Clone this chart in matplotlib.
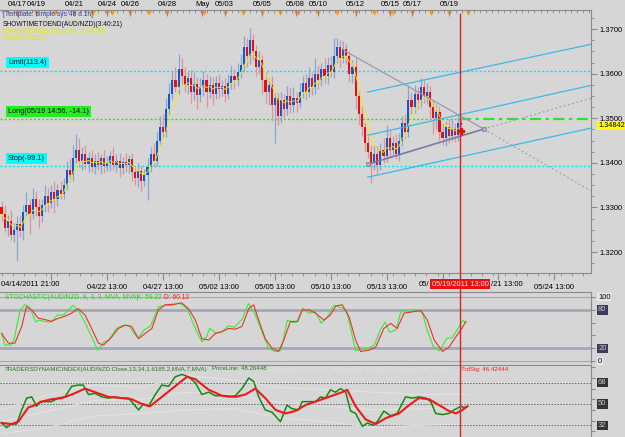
import numpy as np
import pandas as pd
import matplotlib
matplotlib.use("Agg")
import matplotlib.pyplot as plt
import matplotlib.transforms as mtransforms
from matplotlib.lines import Line2D
from matplotlib.ticker import FixedLocator, MultipleLocator, NullFormatter

W, H = 625, 437
BG = "#d6d6d6"
plt.rcParams["font.family"] = ["Liberation Sans", "DejaVu Sans"]
plt.rcParams["font.size"] = 5.5

# AUD/NZD 4h closes, in 1/10000 (3272 -> 1.3272)
closes = [3285, 3255, 3270, 3238, 3250, 3262,
          3248, 3290, 3305, 3285, 3318, 3300,
          3280, 3305, 3325, 3310, 3335, 3318, 3340, 3330,
          3350, 3385, 3372, 3410, 3430,
          3405, 3420, 3398, 3412, 3390, 3405, 3395, 3410, 3392, 3400, 3415, 3395, 3405, 3388, 3402, 3395, 3408,
          3380, 3365, 3382, 3360, 3372, 3390,
          3420, 3405, 3450, 3480, 3470, 3520,
          3555, 3585, 3570, 3610, 3595,
          3575, 3590, 3560, 3578, 3552, 3570, 3585, 3560, 3575, 3555, 3580, 3565, 3572, 3555, 3580, 3595, 3585, 3605, 3620,
          3660, 3640, 3675, 3650,
          3615, 3630, 3585, 3560, 3575, 3530, 3545, 3505,
          3540, 3520, 3550, 3530, 3545, 3535, 3560,
          3580, 3560, 3590, 3570, 3600, 3585, 3610, 3595, 3620, 3605, 3640,
          3660, 3635, 3655, 3640,
          3600, 3615, 3550, 3510, 3480, 3445, 3425,
          3400, 3420, 3395, 3430,
          3415, 3455, 3430, 3445, 3420, 3450,
          3490, 3470, 3540, 3525, 3555, 3540, 3570,
          3550, 3560, 3525, 3500, 3515, 3470,
          3455, 3480, 3460, 3475, 3462, 3490, 3484]
first_open = 3300
up_wick = [15, 20, 12, 25, 15, 18,
           20, 15, 30, 15, 25, 20,
           20, 15, 25, 18, 15, 25, 12, 20,
           15, 20, 25, 30, 35,
           25, 15, 20, 12, 18, 15, 20, 10, 18, 15, 12, 20, 15, 18, 12, 20, 10,
           15, 10, 18, 12, 15, 20,
           15, 25, 20, 25, 30, 25,
           25, 20, 30, 35, 25,
           20, 15, 18, 25, 15, 20, 22, 15, 20, 18, 15, 20, 15, 18, 20, 25, 15, 20, 25,
           25, 20, 28, 15,
           15, 20, 12, 18, 15, 20, 15, 12,
           20, 15, 22, 18, 25, 15, 20,
           15, 20, 25, 15, 35, 20, 15, 25, 18, 20, 40,
           20, 15, 18, 12,
           12, 15, 20, 15, 18, 12, 15,
           15, 20, 18, 15,
           25, 30, 18, 15, 20, 18,
           15, 20, 35, 18, 20, 15, 20,
           15, 20, 12, 15, 18, 12,
           20, 15, 18, 25, 15, 15, 10]
dn_wick = [15, 10, 20, 12, 15, 70,
           15, 20, 12, 45, 10, 20,
           25, 12, 15, 20, 12, 30, 15, 12,
           12, 10, 15, 12, 10,
           15, 20, 12, 18, 10, 15, 12, 20, 15, 10, 18, 12, 15, 20, 12, 15, 18,
           20, 15, 18, 22, 12, 55,
           10, 15, 12, 10, 15, 12,
           12, 15, 10, 15, 20,
           15, 20, 25, 18, 30, 15, 20, 35, 15, 25, 12, 20, 15, 18, 12, 15, 20, 12, 15,
           15, 25, 18, 20,
           20, 15, 30, 25, 30, 35, 85, 20,
           15, 20, 12, 18, 15, 20, 12,
           15, 20, 12, 18, 15, 20, 12, 15, 18, 12, 15,
           15, 20, 12, 18,
           18, 20, 30, 25, 20, 18, 15,
           45, 15, 20, 12,
           15, 12, 18, 15, 12, 15,
           12, 15, 12, 15, 12, 18, 15,
           15, 18, 25, 35, 25, 18,
           15, 18, 15, 12, 15, 12, 10]

limit_price, long_price, cur_price, stop_price = 1.3606, 1.3499, 1.34842, 1.3392

# drawn objects (bar, price)
tri_down = [(110.1, 1.3653), (155.3, 1.3476), (189.8, 1.3337)]
tri_up = [(117.9, 1.3397), (155.3, 1.3476), (189.8, 1.3545)]
chan_top = [(117.9, 1.3559), (189.8, 1.3666)]
chan_mid = [(117.9, 1.3462), (189.8, 1.3574)]
chan_low = [(117.9, 1.3368), (189.8, 1.3478)]

cursor_bar = 147.6

bottom_ticks = [16, 34, 52, 70, 88, 106, 124, 142, 160, 178]
bottom_labels = ["", "04/22 13:00", "04/27 13:00", "05/02 13:00", "05/05 13:00", "05/10 13:00",
                 "05/13 13:00", "", "", "05/24 13:00"]
top_ticks = [5.0, 11.1, 23.4, 34.0, 41.4, 53.4, 64.7, 71.8, 84.0, 94.7, 101.8, 114.0, 125.0, 132.1, 144.0]
top_labels = ["04/17", "04/19", "04/21", "04/24", "04/26", "04/28", "May", "05/03", "05/05",
              "05/08", "05/10", "05/12", "05/15", "05/17", "05/19"]
day_marks = [5.0, 11.1, 17.3, 23.4, 29.4, 34.0, 35.5, 41.4, 47.6, 53.4, 64.6, 65.3, 71.8, 77.8,
             84.0, 89.5, 94.7, 95.6, 101.8, 107.9, 114.0, 119.8, 125.0, 126.0, 132.1, 138.2, 144.0, 150.1]

# stochastic %K / %D  (bar, value)
sto_k_bar = [0, 1, 3, 4, 6, 7.5, 9, 11, 12, 14, 16, 18, 20, 21.5, 23, 25, 27, 29, 31, 33, 34.5, 37, 39, 41,
             42.5, 44, 46, 48, 50.5, 52.5, 55, 57, 58.5, 60, 62, 64.5, 66, 67, 69, 71, 73, 75, 77.5, 79.5,
             81.5, 84, 86, 88, 90, 92, 94, 95.5, 97, 99, 101, 103, 105, 107, 109, 111, 112.5, 114, 115.5,
             118, 120, 122, 123.5, 125, 127, 128.5, 130, 131.5, 133, 135.5, 137, 139, 141, 143.5, 145,
             147, 148.5, 149.5]
sto_k = [44, 25, 25, 33, 80, 88, 85, 61, 64, 62, 61, 72, 72, 80, 87, 77, 59, 38, 17, 30, 32, 51, 56, 56,
         44, 36, 49, 55, 85, 87, 87, 91, 87, 80, 55, 30, 38, 51, 44, 46, 55, 53, 66, 90,
         75, 44, 20, 15, 17, 64, 60, 62, 83, 75, 77, 59, 70, 87, 84, 80, 49, 16, 18,
         20, 25, 49, 61, 45, 49, 76, 80, 76, 81, 76, 49, 23, 16, 36, 36,
         51, 64, 60]
sto_d_bar = [0, 2.2, 4.3, 6.5, 8, 9.7, 11.8, 14, 16.1, 18.3, 20.4, 22.6, 24.7, 26.9, 29, 31.2, 32.8, 35.5,
             37.6, 39.8, 41.9, 44.1, 46.2, 48.4, 50.5, 52.7, 55.9, 58, 60.2, 62.4, 64.5, 66.7, 68.8, 71,
             73.1, 75.3, 77.4, 79.6, 81.2, 82.8, 84.9, 87.1, 89.2, 90.9, 93, 95.2, 96.8, 99, 101.1,
             103.8, 105.9, 107.6, 109.7, 111.9, 114, 115.6, 118.3, 120.5, 123.1, 125.3, 127.4, 129.6,
             132.3, 135, 137.1, 139.3, 142, 144.1, 146.3, 148.2, 149.5]
sto_d = [43, 28, 28, 54, 85, 80, 67, 65, 62, 67, 70, 75, 82, 72, 51, 28, 25, 38,
         51, 56, 54, 35, 43, 51, 80, 88, 89, 91, 82, 64, 35, 33, 43, 46,
         51, 50, 54, 82, 88, 64, 35, 20, 15, 33, 62, 62, 80, 80, 75,
         64, 72, 86, 88, 69, 33, 15, 17, 22, 51, 59, 51, 75,
         77, 79, 64, 33, 15, 22, 38, 51, 62]

# traders dynamic index  (bar, value)
tdi_g_bar = [0, 1.6, 3.2, 4.8, 6.5, 8.1, 9.7, 11.3, 12.4, 14, 16.1, 18.3, 20.4, 22.6, 24.7, 26.3, 28,
             30.1, 32.3, 34.4, 36.6, 38.7, 40.9, 42.5, 44.1, 45.7, 47.3, 49.5, 51.6, 53.8, 55.9, 58.1,
             60.2, 62.4, 64.5, 66.7, 68.8, 71, 73.1, 75.3, 77.4, 79.6, 81.2, 82.8, 84.9, 87.1, 89.8,
             91.9, 93.5, 95.7, 96.8, 99, 101.1, 102.7, 104.3, 105.9, 107.5, 109.2, 110.8, 112.4, 114,
             116.2, 117.8, 119.4, 121, 123.1, 125.3, 127.4, 130.1, 132.3, 134.4, 136.6, 138.2, 139.8,
             142, 144.1, 145.7, 147.9, 149, 150]
tdi_g = [34, 30, 33, 33, 45, 55, 56, 48, 52, 52, 52, 55, 56, 65, 66, 66, 58,
         59, 56, 55, 56, 55, 55, 50, 45, 50, 48, 58, 66, 65, 73, 75,
         73, 68, 58, 60, 57, 57, 56, 57, 63, 72, 69, 56, 45, 43, 35,
         49, 46, 45, 52, 52, 52, 56, 55, 62, 60, 63, 60, 44, 42,
         31, 34, 32, 35, 44, 40, 42, 56, 55, 56, 55, 52, 42,
         41, 42, 45, 48, 47, 48]
tdi_r_bar = [0, 3.2, 5.4, 8.6, 10.8, 12.9, 16.1, 19.4, 22.6, 26.9, 30.1, 34.4, 38.7, 41.9, 45.2, 47.8,
             51.6, 55.9, 59.7, 62.4, 66.7, 71, 75.3, 78.5, 81.7, 84.9, 88.2, 91.4, 94.6, 97.8, 101.1,
             105.4, 109.7, 111.3, 114, 117.2, 120.5, 123.7, 128, 131.2, 134.4, 137.7, 140.9, 144.1,
             146.3, 148.4, 150]
tdi_r = [34, 33, 35, 47, 49, 52, 54, 55, 58, 63, 60, 56, 55, 54, 50, 48,
         56, 65, 73, 71, 62, 57, 56, 58, 63, 55, 45, 42, 44, 49, 52,
         56, 60, 62, 48, 37, 33, 38, 42, 49, 55, 54, 49, 44,
         42, 45, 48]
band_bar = [0, 15, 30, 45, 60, 75, 90, 105, 120, 135, 150]
band_up = [45, 58, 66, 64, 74, 70, 64, 62, 60, 58, 58]
band_dn = [25, 30, 40, 42, 45, 46, 38, 35, 30, 32, 33]
mkt_base = [35, 44, 53, 54, 60, 58, 51, 48, 45, 46, 47]


def frect(l, t, r, b):
    return [l / W, 1 - b / H, (r - l) / W, (b - t) / H]


def fpt(x, y):
    return x / W, 1 - y / H


fig = plt.figure(figsize=(W / 100, H / 100), dpi=100, facecolor=BG)
ax = fig.add_axes(frect(0, 10, 591, 273), facecolor=BG)
ax_s = fig.add_axes(frect(0, 292, 591, 363), facecolor=BG, sharex=ax)
ax_t = fig.add_axes(frect(0, 365, 591, 440), facecolor=BG, sharex=ax)
XL = (-0.5, 189.8)
ax.set_xlim(*XL)
SP = "#8a8a8a"

# ---- candles ----
c = 1.0 + np.array(closes) / 10000
o = 1.0 + np.r_[first_open, closes[:-1]] / 10000
hi = np.maximum(o, c) + np.array(up_wick) / 10000
lo = np.minimum(o, c) - np.array(dn_wick) / 10000
x = np.arange(len(c))
bull = c >= o
wick_col = np.where(bull, "#86a6da", "#e89090")
body_col = np.where(bull, "#1458d0", "#e61010")
ax.vlines(x, lo, hi, colors=wick_col, lw=0.9, zorder=3)
ax.bar(x, np.maximum(np.abs(c - o), 0.00015), bottom=np.minimum(o, c), width=0.68,
       color=body_col, zorder=4)
ema = pd.Series(c).ewm(span=5, adjust=False).mean()
ax.plot(x, ema, color="#f2f200", lw=0.6, zorder=5)

# horizontal order lines
ax.axhline(limit_price, color="#00e8f0", lw=1, ls=(0, (1.5, 1.5)), zorder=2)
ax.axhline(stop_price, color="#00e8f0", lw=1, ls=(0, (1.5, 1.5)), zorder=2)
ax.plot([XL[0], cursor_bar], [long_price] * 2, color="#33dd33", lw=1, ls=(0, (1.5, 1.5)), zorder=2)
ax.plot([cursor_bar, XL[1]], [long_price] * 2, color="#33dd33", lw=1.6, ls=(0, (5, 2, 1.5, 2)), zorder=2)
ax.axhline(cur_price, color="#eeee44", lw=0.7, ls=(0, (1.5, 1.5)), zorder=2)

# channels and triangle
for ln in (chan_top, chan_mid, chan_low):
    ax.plot(*zip(*ln), color="#3cb8e8", lw=0.9, zorder=6)
ax.plot(*zip(*tri_down[:2]), color="#9a9ab4", lw=0.9, zorder=6)
ax.plot(*zip(*tri_down[1:]), color="#a0a0b8", lw=0.9, ls=(0, (1.5, 2)), zorder=6)
ax.plot(*zip(*tri_up[:2]), color="#7a7aa0", lw=1.2, zorder=6)
ax.plot(*zip(*tri_up[1:]), color="#a0a0b8", lw=0.9, ls=(0, (1.5, 2)), zorder=6)
ax.plot([tri_up[0][0], tri_up[1][0]], [tri_up[0][1], tri_up[1][1]], ls="none", marker="s",
        ms=2.5, mfc="#a8a8c8", mec="#8080a0", mew=0.5, zorder=7)
ax.plot(x[-1], c[-1] - 0.0012, marker="P", ms=4, color="#e01010", zorder=8)

ax.set_ylim(1.3153, 1.3743)
ax.yaxis.tick_right()
ax.yaxis.set_major_locator(MultipleLocator(0.01))
ax.yaxis.set_minor_locator(MultipleLocator(0.0025))
ax.yaxis.set_major_formatter(lambda v, p: f"{v:.4f}")
ax.tick_params(axis="y", which="major", length=4, pad=2, color=SP, labelsize=5.5)
ax.tick_params(axis="y", which="minor", length=2, color=SP)
ax.xaxis.set_major_locator(FixedLocator(bottom_ticks))
ax.xaxis.set_minor_locator(MultipleLocator(3.6))
ax.set_xticklabels(bottom_labels)
ax.tick_params(axis="x", which="major", length=5, pad=3, color=SP, labelsize=5.5)
ax.tick_params(axis="x", which="minor", length=2.5, color=SP)
ax.spines["left"].set_visible(False)
for s in ("top", "right", "bottom"):
    ax.spines[s].set_color(SP)

ax_top = ax.twiny()
ax_top.set_xlim(*XL)
ax_top.xaxis.set_major_locator(FixedLocator(top_ticks))
ax_top.set_xticklabels(top_labels)
ax_top.xaxis.set_minor_locator(MultipleLocator(1.95))
ax_top.tick_params(axis="x", which="major", direction="in", length=4, pad=1.5, color=SP, labelsize=5.5)
ax_top.tick_params(axis="x", which="minor", direction="in", length=2.5, color=SP)
for s in ax_top.spines.values():
    s.set_visible(False)
ax.scatter(day_marks, [0.99] * len(day_marks), transform=ax.get_xaxis_transform(), marker="v",
           s=12, color="#ff9a00", lw=0, zorder=9, clip_on=False)

bt = mtransforms.blended_transform_factory(ax.transAxes, ax.transData)
ax.text(1.012, cur_price, "1.34842", transform=bt, fontsize=5.3, va="center", ha="left",
        bbox=dict(boxstyle="square,pad=0.12", fc="#ffff00", ec="none"))

# ---- stochastic ----
ax_s.set_ylim(-3, 108)
for lv, lw_ in ((100, 0.8), (80, 2), (20, 2), (0, 0.8)):
    ax_s.axhline(lv, color="#a6a6b6", lw=lw_, zorder=1)
ax_s.plot(sto_k_bar, sto_k, color="#33ee33", lw=0.8, zorder=3)
ax_s.plot(sto_d_bar, sto_d, color="#ee3030", lw=0.8, zorder=4)
ax_s.yaxis.tick_right()
ax_s.yaxis.set_major_locator(FixedLocator([0, 20, 40, 60, 80, 100]))
ax_s.yaxis.set_major_formatter(NullFormatter())
ax_s.tick_params(axis="y", length=3, color=SP)
ax_s.tick_params(axis="x", which="both", bottom=False, labelbottom=False)
ax_s.spines["left"].set_visible(False)
ax_s.spines["bottom"].set_visible(False)
for s in ("top", "right"):
    ax_s.spines[s].set_color(SP)
bts = mtransforms.blended_transform_factory(ax_s.transAxes, ax_s.transData)
for lv in (100, 0):
    ax_s.text(1.012, lv, str(lv), transform=bts, fontsize=5.5, va="center",
              bbox=dict(boxstyle="square,pad=0.1", fc="#e8e8e8", ec="none"))
for lv in (80, 20):
    ax_s.text(1.012, lv, str(lv), transform=bts, fontsize=5.5, va="center", color="#c8c8d8",
              bbox=dict(boxstyle="square,pad=0.15", fc="#3c3c58", ec="none"))

# ---- TDI ----
ax_t.set_ylim(19.5, 83)
for lv in (68, 50, 32):
    ax_t.axhline(lv, color="#6a6a6a", lw=0.7, ls=(0, (1.5, 1.5)), zorder=1)
for band in (band_up, band_dn, mkt_base):
    ax_t.plot(band_bar, band, color="#e2e2e2", lw=0.8, zorder=2)
ax_t.plot(tdi_g_bar, tdi_g, color="#138a13", lw=1.1, zorder=3)
ax_t.plot(tdi_r_bar, tdi_r, color="#ee1a1a", lw=1.5, zorder=4)
ax_t.yaxis.tick_right()
ax_t.yaxis.set_major_locator(MultipleLocator(9))
ax_t.yaxis.set_major_formatter(NullFormatter())
ax_t.tick_params(axis="y", length=3, color=SP)
ax_t.tick_params(axis="x", which="both", bottom=False, labelbottom=False)
ax_t.spines["left"].set_visible(False)
ax_t.spines["bottom"].set_visible(False)
for s in ("top", "right"):
    ax_t.spines[s].set_color(SP)
btt = mtransforms.blended_transform_factory(ax_t.transAxes, ax_t.transData)
for lv in (68, 50, 32):
    ax_t.text(1.012, lv, str(lv), transform=btt, fontsize=5.5, va="center", color="#c8c8c8",
              bbox=dict(boxstyle="square,pad=0.15", fc="#333333", ec="none"))

# ---- cursor line across panels ----
xf = fig.transFigure.inverted().transform(ax.transData.transform((cursor_bar, 1.34)))[0]
fig.add_artist(Line2D([xf, xf], [0, 1 - 14 / H], transform=fig.transFigure, color="#dd2020", lw=1,
                      zorder=20))
hl = fig.text(xf, 1 - 284 / H, "05/19/2011 13:00", fontsize=5.3, color="#c8f0ff", ha="center",
              va="center", bbox=dict(boxstyle="square,pad=0.2", fc="#ee1111", ec="none"), zorder=21)
fig.canvas.draw()
hb = hl.get_bbox_patch().get_window_extent().transformed(fig.transFigure.inverted())
fig.text(hb.x0 - 0.002, 1 - 284 / H, "05/", fontsize=5.5, ha="right", va="center")
fig.text(hb.x1 + 0.002, 1 - 284 / H, "/21 13:00", fontsize=5.5, ha="left", va="center")
fig.text(*fpt(1, 284), "04/14/2011 21:00", fontsize=5.5, ha="left", va="center")

# ---- header texts ----
HF = 4.8
fig.text(*fpt(3, 15), "[Template: simple sys 4h d 1h]", fontsize=HF, color="#3c3c90", va="center")
fig.text(*fpt(3, 24.5), "SHOWTIMETOEND(AUD/NZD)(3:40:21)", fontsize=HF, color="#101010", va="center")
fig.text(*fpt(3, 31.5), "EMA(AUD/NZD.Close,5):  1.34785", fontsize=HF, color="#e8e800", va="center")
fig.text(*fpt(3, 38), "HA(AUD/NZD)", fontsize=HF, color="#e8e800", va="center")

for ypx, txt, col in ((62.5, "Limit(113.4)", "#00ffff"), (111.5, "Long(05/19 14:56, -14.1)", "#22ee22"),
                      (158.5, "Stop(-99.1)", "#00ffff")):
    fig.text(*fpt(8, ypx), txt, fontsize=5.3, color="#101010", va="center",
             bbox=dict(boxstyle="square,pad=0.3", fc=col, ec="none"))

fig.text(*fpt(5, 297.5), "STOCHASTIC(AUD/NZD, 8, 3, 3, MVA, MVA)", fontsize=HF, color="#33cc33", va="center")
fig.text(*fpt(137, 297.5), "K: 59.22", fontsize=HF, color="#33cc33", va="center")
fig.text(*fpt(164, 297.5), "D: 60.12", fontsize=HF, color="#ee2222", va="center")

fig.text(*fpt(5, 369), "TRADERSDYNAMICINDEX(AUD/NZD.Close,13,34,1.6185,2,MVA,7,MVA)", fontsize=4.4,
         color="#227722", va="center")
fig.text(*fpt(212, 369), "PriceLine: 48.26448", fontsize=4.4, color="#227722", va="center")
fig.text(*fpt(268, 369), "VolBandUp: 58.02267  VolBandDn: 33.41803  MktBase: 46.71930", fontsize=4.4,
         color="#e2e2e2", va="center")
fig.text(*fpt(461, 369), "TrdSig: 46.42444", fontsize=4.4, color="#ee2222", va="center")

fig.savefig("out.png", dpi=100, facecolor=BG)
